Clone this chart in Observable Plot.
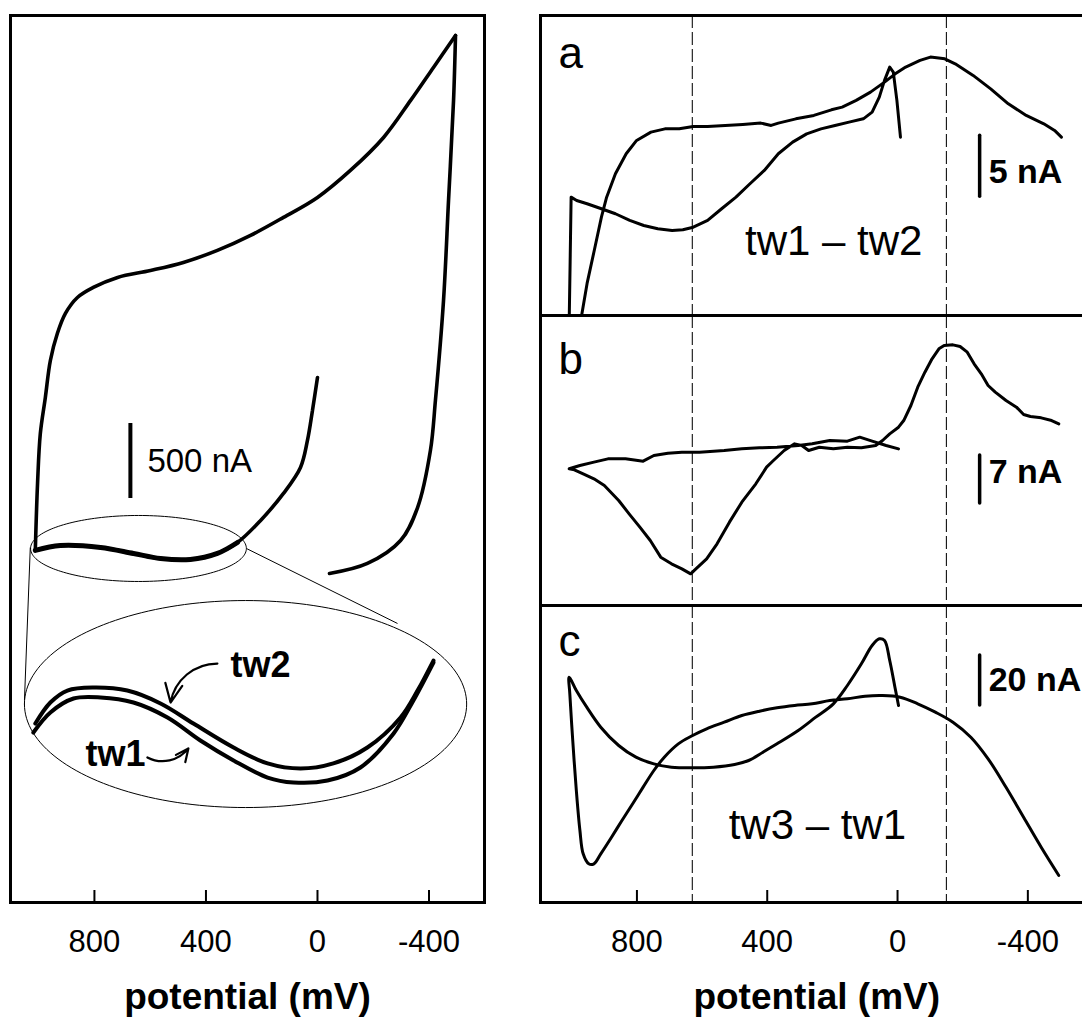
<!DOCTYPE html>
<html><head><meta charset="utf-8">
<script src="https://cdn.jsdelivr.net/npm/d3@7"></script>
<script src="https://cdn.jsdelivr.net/npm/@observablehq/plot@0.6"></script>
<style>
html,body{margin:0;padding:0;background:#fff;overflow:hidden;}
#wrap{position:relative;width:1082px;height:1018px;overflow:hidden;}
#wrap svg{position:absolute;}
</style></head><body><div id="wrap"></div>
<script>
// ---------- data ----------
const tickValues = [800, 400, 0, -400];
const dashedPotentials = [630, -150];

// left panel: full cyclic voltammogram (potential mV, current nA)
const cvPotential = [-43,-179,-298,-359,-405,-423,-452,-470,-488,-495,
  -416,-334,-237,-118,0,122,240,359,481,599,717,804,861,904,933,958,976,994,1004,1012,
  922,778,660,563,456,359,287,204,122,61,36,18,0];
const cvCurrent = [2193,2260,2413,2633,3013,3347,4013,4680,5347,5780,
  5567,5347,5100,4880,4700,4567,4447,4347,4267,4213,4167,4100,4033,3927,3793,3613,3367,3127,2793,2347,
  2380,2367,2327,2293,2287,2327,2400,2547,2727,2900,3080,3280,3500];
// sweep segments of the voltammogram (index ranges, split at the switching potentials)
const cvSweeps = [[0, 9], [9, 29], [29, 42]];

// magnified inset (same axes, enlarged region)
const tw2Potential = [1012,958,897,804,682,563,445,301,179,61,-57,-179,-298,-359,-416];
const tw2Current   = [1193,1333,1413,1433,1413,1327,1193,1033,927,893,927,1033,1233,1413,1613];
const tw1Potential = [1019,958,875,778,660,538,420,301,179,86,-36,-154,-273,-344,-416];
const tw1Current   = [1133,1267,1360,1367,1333,1233,1080,947,833,800,813,900,1127,1347,1600];

// panel a: tw1 - tw2 (nA)
const aPotential = [-503,-482,-449,-395,-340,-286,-232,-177,-145,-101,-69,-25,7,40,83,127,170,203,257,312,
  366,388,420,475,529,583,627,670,714,757,801,833,866,893,909,931,953,969,
  1000,1012,1008,1005,
  1002,985,953,909,866,822,779,736,692,659,627,583,540,496,453,409,366,322,279,235,
  192,149,105,78,56,40,24,13,2,-9];
const aCurrent = [5.19,5.74,6.28,6.97,7.92,9.15,10.25,11.2,11.61,11.75,11.48,10.93,10.38,9.7,8.88,8.2,7.65,7.43,6.97,6.69,
  6.34,6.15,6.34,6.23,6.15,6.07,6.07,5.87,5.87,5.6,4.92,3.83,2.19,0.27,-1.37,-4.1,-6.8,-9.3,
  -14,-20,-10,-5,
  0.27,0,-0.27,-0.68,-1.09,-1.64,-2.05,-2.32,-2.46,-2.4,-2.19,-1.64,-0.68,0.27,1.37,2.46,3.83,4.78,5.46,5.87,
  6.15,6.42,6.69,7.24,8.47,9.84,10.93,10.52,8.2,5.19];

// panel b (nA)
const bPotential = [-495,-473,-441,-408,-387,-365,-333,-300,-278,-257,-235,-214,-192,-170,-143,-127,-106,-84,-62,-41,
  -19,-3,24,46,67,111,154,197,240,273,294,316,348,381,402,435,478,516,554,586,
  619,635,662,694,727,759,791,824,856,900,932,965,992,1008,
  975,932,889,835,781,748,705,662,608,532,478,424,370,305,262,208,154,116,78,35,-3];
const bCurrent = [4.62,5.10,5.49,5.69,5.98,7.05,8.02,9.24,10.21,11.91,13.37,15.07,15.9,16.14,16.04,15.56,14.1,12.15,9.96,7.29,
  5.1,4.13,3.16,2.19,1.46,1.12,1.21,0.97,1.21,0.73,1.46,1.7,0.73,-0.73,-1.7,-4.13,-6.81,-9.72,-12.88,-15.07,
  -16.53,-17.26,-16.53,-15.8,-14.83,-12.4,-10.45,-8.51,-6.56,-4.38,-3.4,-2.67,-2.09,-1.94,
  -1.46,-0.97,-0.49,-0.49,-0.83,0,0.34,0.49,0.49,0.73,0.97,1.12,1.21,1.46,1.7,2.19,2.09,2.67,2.09,1.46,0.97];

// panel c: tw3 - tw1 (nA)
const cPotential = [-495,-441,-387,-333,-278,-225,-170,-116,-62,-8,46,100,154,208,262,316,370,424,478,532,
  586,629,673,716,748,781,813,846,878,911,932,948,965,975,986,997,1006,1008,
  986,954,911,856,803,748,694,629,565,500,457,413,370,305,251,197,154,111,78,56,40,24,8,-3];
const cCurrent = [-46,-34.7,-22.7,-10.7,0.67,9.33,15.33,19.33,22.67,25.33,26,25.73,24.67,24,22.67,22,21.07,19.73,18,15.33,
  12.67,10,6.67,1.33,-4,-10.67,-17.33,-24,-30.67,-37.33,-41.33,-41.33,-37.33,-28,-12,8,26.67,33.33,
  28,21.33,13.33,6,1.33,-1.33,-2.67,-2.93,-2.67,-1.6,0,3.33,6.67,12,17.33,22.67,30,38.67,46,48.67,48,40,29.33,22];

// annotations
const zoomSmall = {cx: 642, cy: 2360, rx: 387, ry: 220};
const zoomBig   = {cx: 258, cy: 1323, rx: 793, ry: 690};
const zoomLinks = [{x1: 1030, y1: 2367, x2: 1051, y2: 1347}, {x1: 255, y1: 2360, x2: -287, y2: 1860}];
const leftLabels = [
  {p: 312, c: 1500, text: "tw2"},
  {p: 832, c: 913, text: "tw1"}
];
const leftArrows = [
  {x1: 359, y1: 1593, x2: 527, y2: 1333},
  {x1: 610, y1: 967, x2: 463, y2: 1027}
];
const leftBar = {p: 671, from: 2693, len: 500, label: "500 nA", labelP: 610, labelC: 2873};
const panels = [
  {key: "a", letter: "a", P: aPotential, C: aCurrent, domain: [-9.43, 15.16], bar: {from: 0.3, len: 5, label: "5 nA", labelC: 1.39}, note: {text: "tw1 \u2013 tw2", p: 196, c: -4.5}, curve: "linear"},
  {key: "b", letter: "b", P: bPotential, C: bCurrent, domain: [-21.88, 20.42], bar: {from: -7, len: 7, label: "7 nA", labelC: -4.08}, note: null, curve: "linear"},
  {key: "c", letter: "c", P: cPotential, C: cCurrent, domain: [-56.8, 62], bar: {from: 22, len: 20, label: "20 nA", labelC: 28}, note: {text: "tw3 \u2013 tw1", p: 246, c: -31.2}, curve: "catmull-rom"}
];
const barPotential = -252;

// ---------- drawing ----------
const FONT = "'Liberation Sans', Arial, Helvetica, sans-serif";
const baseStyle = {fontFamily: FONT, background: "transparent", maxWidth: "none", overflow: "visible", color: "#000"};
const wrap = document.getElementById("wrap");
const toRows = (P, C) => P.map((p, i) => ({p, c: C[i]}));
const ellipsePts = (e) => d3.range(0, 361, 2).map(a => ({p: e.cx + e.rx * Math.cos(a * Math.PI / 180), c: e.cy + e.ry * Math.sin(a * Math.PI / 180)}));

const cvRows = toRows(cvPotential, cvCurrent);
const cvSegRows = cvSweeps.flatMap(([s, e], k) => cvRows.slice(s, e + 1).map(d => ({...d, sweep: k})));
const leftH = 1018, leftMT = 15, leftMB = 116;
const leftInner = leftH - leftMT - leftMB;

const left = Plot.plot({
  width: 500, height: leftH, marginLeft: 10, marginRight: 16, marginTop: leftMT, marginBottom: leftMB,
  x: {domain: [1101, -599]},
  y: {domain: [0, 5913], axis: null},
  style: baseStyle,
  marks: [
    Plot.frame({strokeWidth: 3}),
    Plot.tickX(tickValues, {x: d => d, insetTop: leftInner - 12, strokeWidth: 2}),
    Plot.axisX(tickValues, {tickSize: 0, tickPadding: 27, fontSize: 31, label: null, tickFormat: d => String(d)}),
    Plot.text(["potential (mV)"], {frameAnchor: "bottom", dy: 106, lineAnchor: "bottom", fontSize: 37, fontWeight: "bold"}),
    Plot.line(ellipsePts(zoomSmall), {x: "p", y: "c", strokeWidth: 1}),
    Plot.line(ellipsePts(zoomBig), {x: "p", y: "c", strokeWidth: 1}),
    Plot.link(zoomLinks, {x1: "x1", y1: "y1", x2: "x2", y2: "y2", strokeWidth: 1}),
    Plot.line(cvSegRows, {x: "p", y: "c", z: "sweep", curve: "catmull-rom", strokeWidth: 3.6, strokeLinejoin: "miter"}),
    Plot.line(cvRows.slice(29, 37), {x: "p", y: "c", curve: "catmull-rom", strokeWidth: 5}),
    Plot.line(toRows(tw2Potential, tw2Current), {x: "p", y: "c", curve: "catmull-rom", strokeWidth: 4}),
    Plot.line(toRows(tw1Potential, tw1Current), {x: "p", y: "c", curve: "catmull-rom", strokeWidth: 4}),
    Plot.arrow(leftArrows, {x1: "x1", y1: "y1", x2: "x2", y2: "y2", bend: -40, headLength: 16, headAngle: 50, strokeWidth: 2.2}),
    Plot.text(leftLabels, {x: "p", y: "c", text: "text", textAnchor: "start", lineAnchor: "bottom", fontSize: 36, fontWeight: "bold"}),
    Plot.ruleX([leftBar], {x: "p", y1: "from", y2: d => d.from + d.len, strokeWidth: 4}),
    Plot.text([leftBar], {x: "labelP", y: "labelC", text: "label", textAnchor: "start", lineAnchor: "bottom", fontSize: 33})
  ]
});
left.style.left = "0px"; left.style.top = "0px";
wrap.appendChild(left);

// right panels
const rightLeft = 530;
const layout = {
  a: {top: 0, mt: 15, mb: 3, inner: 300},
  b: {top: 312, mt: 3, mb: 3, inner: 290},
  c: {top: 602, mt: 3, mb: 116, inner: 297}
};
for (const pn of panels) {
  const L = layout[pn.key];
  const rows = toRows(pn.P, pn.C);
  const marks = [
    Plot.ruleX(dashedPotentials, {x: d => d, stroke: "#111", strokeWidth: 1.1, strokeDasharray: "13,4"}),
    Plot.frame({strokeWidth: 3}),
    Plot.line(rows, {x: "p", y: "c", curve: pn.curve, strokeWidth: 3, clip: true}),
    Plot.text([pn.letter], {frameAnchor: "top-left", textAnchor: "start", lineAnchor: "bottom", dx: 18, dy: pn.key === "a" ? 52 : pn.key === "b" ? 58 : 50, fontSize: 44}),
    Plot.ruleX([pn.bar], {x: () => barPotential, y1: "from", y2: d => d.from + d.len, strokeWidth: 3.5, strokeLinecap: "round"}),
    Plot.text([pn.bar], {x: () => barPotential, y: "labelC", text: "label", dx: 9, textAnchor: "start", lineAnchor: "bottom", fontSize: 34, fontWeight: "bold"})
  ];
  if (pn.note) marks.push(Plot.text([pn.note], {x: "p", y: "c", text: "text", lineAnchor: "bottom", fontSize: 42}));
  if (pn.key === "c") {
    marks.push(Plot.tickX(tickValues, {x: d => d, insetTop: L.inner - 12, strokeWidth: 2}));
    marks.push(Plot.axisX(tickValues, {tickSize: 0, tickPadding: 27, fontSize: 31, label: null, tickFormat: d => String(d)}));
    marks.push(Plot.text(["potential (mV)"], {frameAnchor: "bottom", dy: 106, lineAnchor: "bottom", fontSize: 37, fontWeight: "bold"}));
  }
  const svg = Plot.plot({
    width: 575, height: L.mt + L.inner + L.mb,
    marginLeft: 10, marginRight: 12.5, marginTop: L.mt, marginBottom: L.mb,
    x: {domain: [1096, -600], axis: pn.key === "c" ? undefined : null},
    y: {domain: pn.domain, axis: null},
    style: baseStyle,
    marks
  });
  svg.style.left = rightLeft + "px"; svg.style.top = L.top + "px";
  wrap.appendChild(svg);
}
</script></body></html>
